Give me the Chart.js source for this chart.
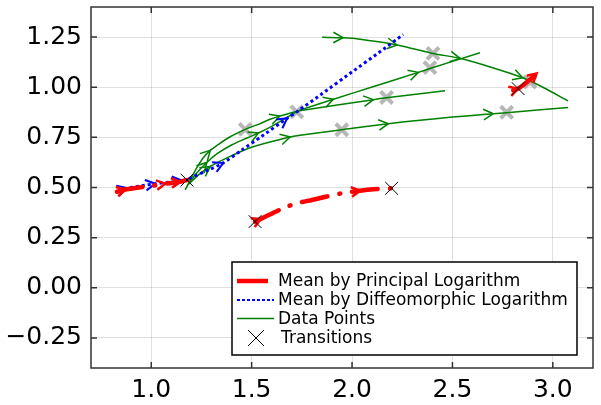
<!DOCTYPE html>
<html><head><meta charset="utf-8">
<script src="https://cdn.jsdelivr.net/npm/chart.js@4"></script>
<style>html,body{margin:0;padding:0;background:#fff;}#wrap{width:601px;height:405px;position:relative;}</style>
</head><body><div id="wrap"><canvas id="c" width="601" height="405"></canvas></div>
<script>
const xTicks = [1.0, 1.5, 2.0, 2.5, 3.0];
const yTicks = [-0.25, 0.0, 0.25, 0.5, 0.75, 1.0, 1.25];

// Mean by Principal Logarithm (three pieces)
const p1X = [0.829, 0.872, 0.92, 1.0, 1.07, 1.144, 1.178];
const p1Y = [0.479, 0.490, 0.497, 0.508, 0.519, 0.528, 0.537];
const p1Arrows = [1, 4, 5];
const p2X = [1.517, 1.545, 1.658, 1.725, 1.80, 1.949, 2.04, 2.106, 2.197];
const p2Y = [0.330, 0.343, 0.397, 0.421, 0.438, 0.471, 0.484, 0.491, 0.496];
const p2Arrows = [1, 6];
const p3X = [2.803, 2.827, 2.87, 2.919];
const p3Y = [0.985, 0.993, 1.025, 1.068];
const p3Arrows = [1, 3];

// Mean by Diffeomorphic Logarithm
const dX = [0.836, 0.879, 0.95, 1.02, 1.10, 1.153, 1.178, 1.27, 1.358, 1.45, 1.55, 1.677, 1.725, 1.85, 2.0, 2.13, 2.255];
const dY = [0.485, 0.497, 0.508, 0.519, 0.528, 0.535, 0.540, 0.581, 0.622, 0.686, 0.755, 0.845, 0.877, 0.967, 1.076, 1.170, 1.263];
const dArrows = [1, 3, 5, 8, 11];

// Data points (green curves)
const gAX = [1.851, 1.955, 2.003, 2.224, 2.405, 2.537, 2.70, 2.85, 2.95, 3.076];
const gAY = [1.249, 1.247, 1.244, 1.211, 1.168, 1.144, 1.097, 1.047, 1.000, 0.932];
const gAArrows = [1, 3, 5, 7];
const gBX = [1.73, 1.907, 2.10, 2.33, 2.388, 2.637];
const gBY = [0.882, 0.940, 1.001, 1.074, 1.093, 1.172];
const gBArrows = [1, 3];
const gB2X = [1.73, 2.106, 2.172, 2.463];
const gB2Y = [0.882, 0.938, 0.947, 0.982];
const gB2Arrows = [1];
const gCX = [1.19, 1.24, 1.294, 1.377, 1.507, 1.692, 1.741, 1.949, 2.181, 2.488, 2.703, 2.770, 3.076];
const gCY = [0.520, 0.567, 0.605, 0.648, 0.703, 0.752, 0.760, 0.788, 0.818, 0.850, 0.868, 0.873, 0.899];
const gCArrows = [2, 5, 8, 10];
const g1X = [1.169, 1.194, 1.228, 1.26, 1.294, 1.318, 1.393, 1.468, 1.534, 1.592, 1.64, 1.73];
const g1Y = [0.488, 0.537, 0.600, 0.650, 0.685, 0.703, 0.753, 0.790, 0.815, 0.840, 0.856, 0.882];
const g1Arrows = [4, 10];
const g2X = [1.185, 1.22, 1.277, 1.33, 1.40, 1.48, 1.534, 1.60, 1.66, 1.73];
const g2Y = [0.515, 0.565, 0.625, 0.670, 0.712, 0.748, 0.772, 0.805, 0.840, 0.882];
const g2Arrows = [2, 6];

// Gray markers and transitions
const grayX = [1.468, 1.725, 1.949, 2.172, 2.388, 2.403, 2.770, 2.886];
const grayY = [0.790, 0.877, 0.788, 0.949, 1.098, 1.169, 0.875, 1.026];
const transX = [1.178, 1.517, 2.197, 2.827];
const transY = [0.537, 0.330, 0.496, 0.993];

const legendLabels = ['Mean by Principal Logarithm', 'Mean by Diffeomorphic Logarithm', 'Data Points', 'Transitions'];

const pts = (xs, ys) => xs.map((x, i) => ({x: x, y: ys[i]}));
const RED = '#ff0000', BLUE = '#0000ff', GREEN = '#008000';

function redSet(xs, ys, arr) {
  return {data: pts(xs, ys), showLine: true, borderColor: RED, borderWidth: 4.5, borderDash: [26, 12, 1, 12],
    borderCapStyle: 'round', pointRadius: 0, tension: 0.3, order: 1, arrowAt: arr, arrowLen: 10, arrowWidth: 2.5};
}
function greenSet(xs, ys, arr) {
  return {data: pts(xs, ys), showLine: true, borderColor: GREEN, borderWidth: 1.5, pointRadius: 0,
    tension: 0.3, order: 3, arrowAt: arr, arrowLen: 11, arrowWidth: 1.5};
}

const datasets = [
  {data: pts(transX, transY), showLine: false, pointStyle: 'crossRot', pointRadius: 9, borderColor: '#000', borderWidth: 1, order: 0},
  redSet(p1X, p1Y, p1Arrows), redSet(p2X, p2Y, p2Arrows), redSet(p3X, p3Y, p3Arrows),
  {data: pts(dX, dY), showLine: true, borderColor: BLUE, borderWidth: 3, borderDash: [3, 3], pointRadius: 0,
    tension: 0.2, order: 2, arrowAt: dArrows, arrowLen: 11, arrowWidth: 2},
  greenSet(gAX, gAY, gAArrows), greenSet(gBX, gBY, gBArrows), greenSet(gB2X, gB2Y, gB2Arrows),
  greenSet(gCX, gCY, gCArrows), greenSet(g1X, g1Y, g1Arrows), greenSet(g2X, g2Y, g2Arrows),
  {data: pts(grayX, grayY), showLine: false, pointStyle: 'crossRot', pointRadius: 8.5, borderColor: 'rgba(165,165,165,0.8)', borderWidth: 4, order: 4}
];

const arrowPlugin = {
  id: 'arrows',
  afterDatasetDraw(chart, args) {
    const ds = chart.data.datasets[args.index];
    if (!ds.arrowAt) return;
    const xs = chart.scales.x, ys = chart.scales.y, ctx = chart.ctx, a = chart.chartArea;
    ctx.save();
    ctx.beginPath(); ctx.rect(a.left, a.top, a.right - a.left, a.bottom - a.top); ctx.clip();
    ctx.strokeStyle = ds.borderColor; ctx.lineWidth = ds.arrowWidth; ctx.setLineDash([]);
    ctx.lineCap = 'butt'; ctx.lineJoin = 'miter';
    for (const i of ds.arrowAt) {
      const p = ds.data[i], q = ds.data[i - 1];
      const px = xs.getPixelForValue(p.x), py = ys.getPixelForValue(p.y);
      const qx = xs.getPixelForValue(q.x), qy = ys.getPixelForValue(q.y);
      const ang = Math.atan2(py - qy, px - qx), L = ds.arrowLen, h = 0.5;
      ctx.beginPath();
      ctx.moveTo(px - L * Math.cos(ang - h), py - L * Math.sin(ang - h));
      ctx.lineTo(px, py);
      ctx.lineTo(px - L * Math.cos(ang + h), py - L * Math.sin(ang + h));
      ctx.stroke();
    }
    ctx.restore();
  }
};

const framePlugin = {
  id: 'frame',
  afterDraw(chart) {
    const ctx = chart.ctx, a = chart.chartArea, xs = chart.scales.x, ys = chart.scales.y;
    ctx.save();
    ctx.strokeStyle = '#333'; ctx.lineWidth = 1.5; ctx.setLineDash([]);
    ctx.strokeRect(a.left, a.top, a.right - a.left, a.bottom - a.top);
    const T = 6;
    ctx.beginPath();
    xTicks.forEach(v => {
      const x = xs.getPixelForValue(v);
      ctx.moveTo(x, a.bottom); ctx.lineTo(x, a.bottom - T);
      ctx.moveTo(x, a.top); ctx.lineTo(x, a.top + T);
    });
    yTicks.forEach(v => {
      const y = ys.getPixelForValue(v);
      ctx.moveTo(a.left, y); ctx.lineTo(a.left + T, y);
      ctx.moveTo(a.right, y); ctx.lineTo(a.right - T, y);
    });
    ctx.stroke();

    // legend box
    const L = 232, R = a.right - 16, B = a.bottom - 13, Tp = 262;
    ctx.fillStyle = '#fff';
    ctx.fillRect(L, Tp, R - L, B - Tp);
    ctx.strokeStyle = '#000'; ctx.lineWidth = 1.5;
    ctx.strokeRect(L, Tp, R - L, B - Tp);
    const rows = [281, 300, 318.5, 338];
    ctx.lineCap = 'butt';
    ctx.strokeStyle = RED; ctx.lineWidth = 4.5; ctx.beginPath(); ctx.moveTo(237, rows[0]); ctx.lineTo(268, rows[0]); ctx.stroke();
    ctx.strokeStyle = BLUE; ctx.lineWidth = 2; ctx.setLineDash([3, 2]); ctx.beginPath(); ctx.moveTo(237, rows[1]); ctx.lineTo(274, rows[1]); ctx.stroke();
    ctx.setLineDash([]);
    ctx.strokeStyle = GREEN; ctx.lineWidth = 1.5; ctx.beginPath(); ctx.moveTo(237, rows[2]); ctx.lineTo(274, rows[2]); ctx.stroke();
    ctx.strokeStyle = '#000'; ctx.lineWidth = 1; ctx.beginPath();
    ctx.moveTo(248, rows[3] - 8); ctx.lineTo(264, rows[3] + 8); ctx.moveTo(264, rows[3] - 8); ctx.lineTo(248, rows[3] + 8); ctx.stroke();
    ctx.fillStyle = '#000'; ctx.font = '17px "DejaVu Sans"'; ctx.textBaseline = 'middle'; ctx.textAlign = 'left';
    legendLabels.forEach((t, i) => ctx.fillText(t, i === 3 ? 281 : 278, rows[i] + 1));
    ctx.restore();
  }
};

const tickFont = {family: 'DejaVu Sans', size: 25};
new Chart(document.getElementById('c'), {
  type: 'scatter',
  data: {datasets: datasets},
  options: {
    responsive: false, animation: false, devicePixelRatio: 1,
    layout: {autoPadding: false, padding: {left: 0, right: 8, top: 7, bottom: 0}},
    plugins: {legend: {display: false}, tooltip: {enabled: false}},
    scales: {
      x: {type: 'linear', min: 0.7, max: 3.2,
        afterBuildTicks: s => { s.ticks = xTicks.map(v => ({value: v})); },
        afterFit: s => { s.height = 37; s.paddingLeft = 0; s.paddingRight = 0; },
        ticks: {font: tickFont, color: '#000', padding: 7, maxRotation: 0, callback: v => v.toFixed(1)},
        grid: {color: 'rgba(0,0,0,0.12)', drawTicks: false, lineWidth: 1}, border: {display: false}},
      y: {type: 'linear', min: -0.4, max: 1.4,
        afterBuildTicks: s => { s.ticks = yTicks.map(v => ({value: v})); },
        afterFit: s => { s.width = 91; s.paddingTop = 0; s.paddingBottom = 0; },
        ticks: {font: tickFont, color: '#000', padding: 9, callback: v => (v < 0 ? '\u2212' : '') + Math.abs(v).toFixed(2)},
        grid: {color: 'rgba(0,0,0,0.12)', drawTicks: false, lineWidth: 1}, border: {display: false}}
    }
  },
  plugins: [arrowPlugin, framePlugin]
});
</script></body></html>
